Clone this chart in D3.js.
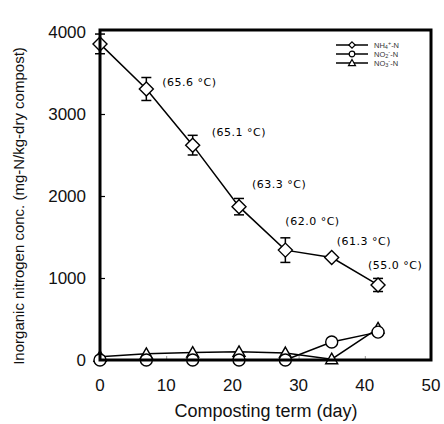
<!DOCTYPE html>
<html>
<head>
<meta charset="utf-8">
<script src="https://cdn.jsdelivr.net/npm/d3@7"></script>
<style>
  body { margin: 0; background: #fff; }
  svg { display: block; }
</style>
</head>
<body>
<svg id="chart" width="444" height="424"></svg>
<script>
// composting term (day)
const days = [0, 7, 14, 21, 28, 35, 42];
// inorganic N, mg-N/kg-dry compost
const nh4 = [3855, 3305, 2620, 1870, 1340, 1250, 915];
const nh4Err = [120, 140, 120, 100, 150, 0, 80];
const no2 = [0, 0, 0, 0, 0, 220, 340];
const no3 = [40, 75, 90, 100, 85, 10, 385];
// pile temperature labels (days 7..42)
const tempDays = [7, 14, 21, 28, 35, 42];
const tempLabels = ["(65.6 °C)", "(65.1 °C)", "(63.3 °C)", "(62.0 °C)", "(61.3 °C)", "(55.0 °C)"];
const xTicks = [0, 10, 20, 30, 40, 50];
const yTicks = [0, 1000, 2000, 3000, 4000];

const svg = d3.select("#chart");
const mLeft = 100, mRight = 431, mTop = 32, mBottom = 360;

const x = d3.scaleLinear().domain([0, 50]).range([mLeft, mRight]);
const y = d3.scaleLinear().domain([0, 4000]).range([mBottom, mTop]);

const font = "Liberation Sans, Arial, Helvetica, sans-serif";

// inward ticks
svg.append("g")
  .attr("transform", `translate(${mLeft},0)`)
  .call(d3.axisRight(y).tickValues([1000, 2000, 3000]).tickSize(5).tickFormat(""))
  .call(g => g.select(".domain").remove())
  .selectAll("line").attr("stroke", "#000").attr("stroke-width", 1.2);

svg.append("g")
  .attr("transform", `translate(0,${mBottom})`)
  .call(d3.axisTop(x).tickValues([10, 20, 30, 40]).tickSize(4).tickFormat(""))
  .call(g => g.select(".domain").remove())
  .selectAll("line").attr("stroke", "#999").attr("stroke-width", 1);

// tick labels
svg.append("g").selectAll("text")
  .data(yTicks)
  .join("text")
  .attr("x", 86)
  .attr("y", d => y(d) + 6)
  .attr("text-anchor", "end")
  .attr("font-family", font)
  .attr("font-size", 17)
  .attr("fill", "#111")
  .text(d => d);

svg.append("g").selectAll("text")
  .data(xTicks)
  .join("text")
  .attr("x", d => x(d))
  .attr("y", 391)
  .attr("text-anchor", "middle")
  .attr("font-family", font)
  .attr("font-size", 17)
  .attr("fill", "#111")
  .text(d => d);

// axis titles
svg.append("text")
  .attr("x", 266)
  .attr("y", 417)
  .attr("text-anchor", "middle")
  .attr("font-family", font)
  .attr("font-size", 18)
  .attr("fill", "#111")
  .text("Composting term (day)");

svg.append("text")
  .attr("transform", "translate(24,206) rotate(-90)")
  .attr("text-anchor", "middle")
  .attr("font-family", font)
  .attr("font-size", 15)
  .attr("fill", "#111")
  .text("Inorganic nitrogen conc. (mg-N/kg-dry compost)");

const line = vals => d3.line()
  .x((d, i) => x(days[i]))
  .y(d => y(d))(vals);

const plot = svg.append("g");

// lines
[nh4, no2, no3].forEach(vals => {
  plot.append("path")
    .attr("d", line(vals))
    .attr("fill", "none")
    .attr("stroke", "#000")
    .attr("stroke-width", 1.5);
});

// error bars for NH4
const eb = plot.append("g").attr("stroke", "#000").attr("stroke-width", 1.5);
days.forEach((d, i) => {
  if (!nh4Err[i]) return;
  const cx = x(d), y1 = y(nh4[i] + nh4Err[i]), y2 = y(nh4[i] - nh4Err[i]);
  eb.append("line").attr("x1", cx).attr("x2", cx).attr("y1", y1).attr("y2", y2);
  eb.append("line").attr("x1", cx - 5).attr("x2", cx + 5).attr("y1", y1).attr("y2", y1);
  eb.append("line").attr("x1", cx - 5).attr("x2", cx + 5).attr("y1", y2).attr("y2", y2);
});

const marker = (type, cx, cy, s) => {
  if (type === "diamond") return `M${cx},${cy - s}L${cx + s},${cy}L${cx},${cy + s}L${cx - s},${cy}Z`;
  if (type === "triangle") return `M${cx},${cy - s}L${cx + s},${cy + s * 0.75}L${cx - s},${cy + s * 0.75}Z`;
  return null;
};

// NO3 triangles
plot.append("g").selectAll("path")
  .data(no3)
  .join("path")
  .attr("d", (d, i) => marker("triangle", x(days[i]), y(d), 6))
  .attr("fill", "#fff").attr("stroke", "#000").attr("stroke-width", 1.4);

// NO2 circles
plot.append("g").selectAll("circle")
  .data(no2)
  .join("circle")
  .attr("cx", (d, i) => x(days[i]))
  .attr("cy", d => y(d))
  .attr("r", 6)
  .attr("fill", "#fff").attr("stroke", "#000").attr("stroke-width", 1.4);

// NH4 diamonds
plot.append("g").selectAll("path")
  .data(nh4)
  .join("path")
  .attr("d", (d, i) => marker("diamond", x(days[i]), y(d), 7))
  .attr("fill", "#fff").attr("stroke", "#000").attr("stroke-width", 1.4);

// temperature labels, nudged off the points
const tempOffset = [[16, -3], [19, -9], [13, -19], [0, -25], [5, -13], [-10, -16]];
svg.append("g").selectAll("text")
  .data(tempLabels)
  .join("text")
  .attr("x", (d, i) => x(tempDays[i]) + tempOffset[i][0])
  .attr("y", (d, i) => y(nh4[days.indexOf(tempDays[i])]) + tempOffset[i][1])
  .attr("font-family", "DejaVu Sans, sans-serif")
  .attr("font-size", 11)
  .attr("letter-spacing", 0.5)
  .text(d => d);

// frame
svg.append("rect")
  .attr("x", mLeft).attr("y", mTop - 2)
  .attr("width", mRight - mLeft).attr("height", mBottom - mTop + 2)
  .attr("fill", "none").attr("stroke", "#000").attr("stroke-width", 3);

// legend
const legendItems = [
  { type: "diamond", base: "NH", sub: "4", sup: "+" },
  { type: "circle", base: "NO", sub: "2", sup: "-" },
  { type: "triangle", base: "NO", sub: "3", sup: "-" }
];
const legend = svg.append("g").attr("transform", "translate(336,45)");
const rows = legend.selectAll("g")
  .data(legendItems)
  .join("g")
  .attr("transform", (d, i) => `translate(0,${i * 9})`);
rows.append("line")
  .attr("x1", 0).attr("x2", 32).attr("y1", 0).attr("y2", 0)
  .attr("stroke", "#000").attr("stroke-width", 1.5);
rows.each(function(d) {
  const g = d3.select(this);
  if (d.type === "circle") {
    g.append("circle").attr("cx", 16).attr("cy", 0).attr("r", 2.8)
      .attr("fill", "#fff").attr("stroke", "#000").attr("stroke-width", 1.2);
  } else {
    g.append("path").attr("d", marker(d.type, 16, 0, d.type === "diamond" ? 3.2 : 3.5))
      .attr("fill", "#fff").attr("stroke", "#000").attr("stroke-width", 1.2);
  }
  const t = g.append("text")
    .attr("x", 38).attr("y", 2.5)
    .attr("font-family", font)
    .attr("font-size", 7.5)
    .attr("fill", "#333");
  t.append("tspan").text(d.base);
  t.append("tspan").attr("font-size", 5.5).attr("dy", 1.5).text(d.sub);
  t.append("tspan").attr("font-size", 5.5).attr("dy", -4).text(d.sup);
  t.append("tspan").attr("dy", 2.5).text("-N");
});
</script>
</body>
</html>
